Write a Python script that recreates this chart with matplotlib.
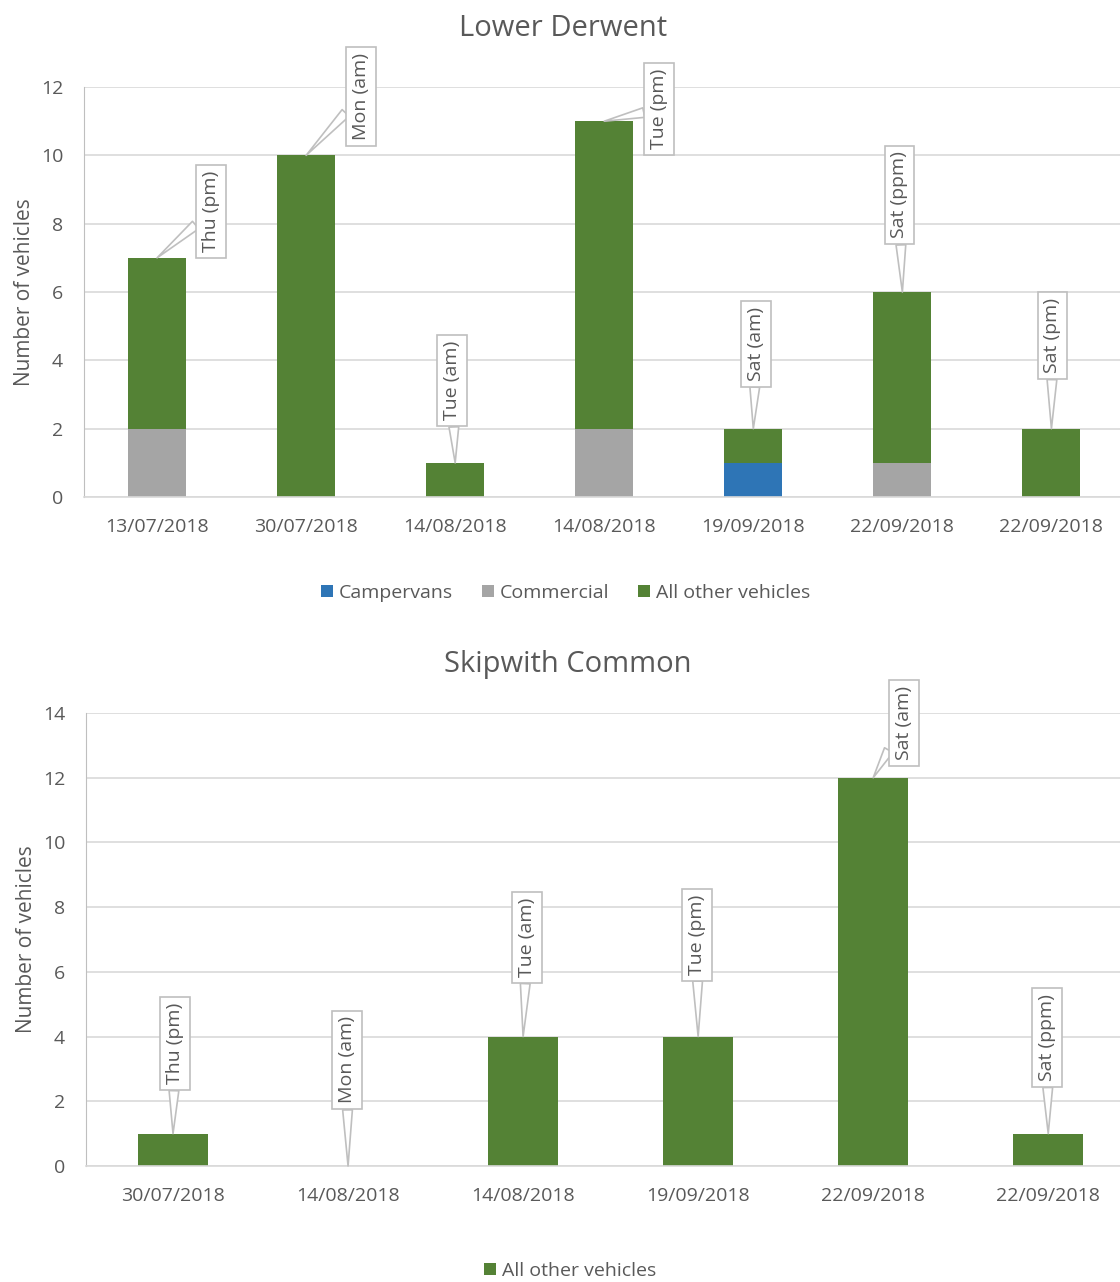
import matplotlib
matplotlib.use('Agg')
import matplotlib.pyplot as plt
import numpy as np

plt.rcParams['font.family'] = ['Open Sans', 'DejaVu Sans']

# Lower Derwent data
ld_dates = ['13/07/2018', '30/07/2018', '14/08/2018', '14/08/2018',
            '19/09/2018', '22/09/2018', '22/09/2018']
ld_campervans = [0, 0, 0, 0, 1, 0, 0]
ld_commercial = [2, 0, 0, 2, 0, 1, 0]
ld_other = [5, 10, 1, 9, 1, 5, 2]
ld_labels = ['Thu (pm)', 'Mon (am)', 'Tue (am)', 'Tue (pm)',
             'Sat (am)', 'Sat (ppm)', 'Sat (pm)']

# Skipwith Common data
sc_dates = ['30/07/2018', '14/08/2018', '14/08/2018', '19/09/2018',
            '22/09/2018', '22/09/2018']
sc_other = [1, 0, 4, 4, 12, 1]
sc_labels = ['Thu (pm)', 'Mon (am)', 'Tue (am)', 'Tue (pm)',
             'Sat (am)', 'Sat (ppm)']

# callout offsets from bar top (pixels)
ld_offsets = [(54, 46), (55, 59), (-3, 82), (55, 12), (3, 85), (-3, 97), (1, 93)]
sc_offsets = [(2, 90), (-1, 106), (4, 99), (-1, 102), (31, 55), (-1, 96)]

GREEN = '#548235'
GREY = '#A5A5A5'
BLUE = '#2E75B6'
TXT = '#595959'
GRID = '#D9D9D9'


def style_axes(ax, ymax, step):
    ax.set_ylim(0, ymax)
    ax.set_yticks(np.arange(0, ymax + 1, step))
    ax.yaxis.grid(True, color=GRID, lw=1.2)
    ax.set_axisbelow(True)
    for s in ['top', 'right']:
        ax.spines[s].set_visible(False)
    ax.spines['left'].set_color('#BFBFBF')
    ax.spines['bottom'].set_color(GRID)
    ax.spines['bottom'].set_linewidth(1.2)
    ax.tick_params(axis='both', length=0, colors=TXT, labelsize=14)
    ax.tick_params(axis='y', pad=15)
    ax.tick_params(axis='x', pad=15)
    ax.set_ylabel('Number of vehicles', fontsize=15, color=TXT, labelpad=4)


def callouts(ax, tops, labels, offsets):
    for i, (t, lab, off) in enumerate(zip(tops, labels, offsets)):
        ax.annotate(lab, xy=(i, t), xytext=off, textcoords='offset pixels',
                    rotation=90, ha='center', va='center', fontsize=14,
                    color=TXT,
                    bbox=dict(boxstyle='square,pad=0.3', fc='white',
                              ec='#BFBFBF', lw=1.2),
                    arrowprops=dict(arrowstyle='wedge,tail_width=0.5',
                                    fc='white', ec='#BFBFBF', lw=1.2,
                                    shrinkA=0, shrinkB=0))


fig = plt.figure(figsize=(11.2, 12.82), dpi=100)

# top chart
ax1 = fig.add_axes([0.075, 0.6123, 0.925, 0.3198])
x = np.arange(len(ld_dates))
w = 0.39
c = np.array(ld_campervans)
m = np.array(ld_commercial)
o = np.array(ld_other)
ax1.bar(x, c, w, color=BLUE, label='Campervans')
ax1.bar(x, m, w, bottom=c, color=GREY, label='Commercial')
ax1.bar(x, o, w, bottom=c + m, color=GREEN, label='All other vehicles')
ax1.set_xticks(x)
ax1.set_xticklabels(ld_dates)
ax1.set_xlim(-0.49, 6.46)
style_axes(ax1, 12, 2)
callouts(ax1, c + m + o, ld_labels, ld_offsets)
fig.text(0.503, 0.978, 'Lower Derwent', ha='center', va='center',
         fontsize=21, color=TXT)
h, l = ax1.get_legend_handles_labels()
fig.legend(h, l, loc='center', bbox_to_anchor=(0.505, 0.5374), ncol=3,
           frameon=False, fontsize=14, labelcolor=TXT, handlelength=0.6,
           handleheight=0.6, handletextpad=0.3, columnspacing=1.5)

# bottom chart
ax2 = fig.add_axes([0.0768, 0.0905, 0.9232, 0.3533])
x2 = np.arange(len(sc_dates))
ax2.bar(x2, sc_other, 0.4, color=GREEN, label='All other vehicles')
ax2.set_xticks(x2)
ax2.set_xticklabels(sc_dates)
ax2.set_xlim(-0.497, 5.41)
style_axes(ax2, 14, 2)
callouts(ax2, sc_other, sc_labels, sc_offsets)
fig.text(0.507, 0.4813, 'Skipwith Common', ha='center', va='center',
         fontsize=21, color=TXT)
h, l = ax2.get_legend_handles_labels()
fig.legend(h, l, loc='center', bbox_to_anchor=(0.509, 0.0086), ncol=1,
           frameon=False, fontsize=14, labelcolor=TXT, handlelength=0.6,
           handleheight=0.6, handletextpad=0.3)

fig.savefig('out.png', dpi=100)
